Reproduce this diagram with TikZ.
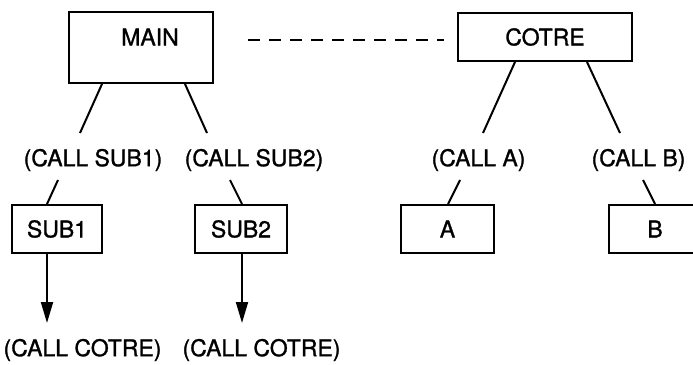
\documentclass[tikz,border=0pt]{standalone}
\usepackage{fontspec}
\setmainfont[FakeBold=1.2]{TeX Gyre Heros}
\usetikzlibrary{arrows.meta}
\begin{document}
\begin{tikzpicture}[x=1pt,y=-1pt,
  every node/.style={font=\fontsize{23}{27}\selectfont},
  box/.style={draw,line width=2pt,inner sep=0pt},
  lbl/.style={inner sep=0pt},
  conn/.style={line width=2pt},
  callarrow/.style={line width=2pt,-{Triangle[length=21pt,width=12pt]}}]
\useasboundingbox (0,0) rectangle (693,364);

% program units
\node[box,minimum width=144pt,minimum height=71pt] (main) at (141,47.5) {};
\node[lbl] (maintext) at (150,37) {MAIN};
\node[box,minimum width=174pt,minimum height=48pt] (cotre) at (545,37) {COTRE};
\node[box,minimum width=90pt,minimum height=48pt] (sub1) at (57,229) {SUB1};
\node[box,minimum width=92pt,minimum height=48pt] (sub2) at (241,229) {SUB2};
\node[box,minimum width=93pt,minimum height=48pt] (a) at (447.5,229) {A};
\node[box,minimum width=93pt,minimum height=48pt] (b) at (655,229) {B};

% call statements
\node[lbl] (call1) at (93,160) {(CALL SUB1)};
\node[lbl] (call2) at (254,160) {(CALL SUB2)};
\node[lbl] (calla) at (478.5,160) {(CALL A)};
\node[lbl] (callb) at (638.5,160) {(CALL B)};
\node[lbl] (cc1) at (82.5,350) {(CALL COTRE)};
\node[lbl] (cc2) at (261.5,350) {(CALL COTRE)};

% link between the two programs
\draw[line width=2pt,dash pattern=on 12pt off 9pt]
  ([shift={(34pt,7.5pt)}]main.east) -- ([shift={(-13pt,-3pt)}]cotre.west);

% tree connectors
\draw[conn] ([xshift=-39pt]main.south) -- ([shift={(-13pt,27pt)}]call1.center);
\draw[conn] ([xshift=44pt]main.south) -- ([shift={(-47pt,27pt)}]call2.center);
\draw[conn] ([xshift=-30pt]cotre.south) -- ([shift={(4.5pt,27pt)}]calla.center);
\draw[conn] ([xshift=42pt]cotre.south) -- ([shift={(-18.5pt,27pt)}]callb.center);
\draw[conn] ([shift={(-35pt,-20pt)}]call1.center) -- ([xshift=-10pt]sub1.north);
\draw[conn] ([shift={(-24pt,-20pt)}]call2.center) -- ([xshift=1pt]sub2.north);
\draw[conn] ([shift={(-18.5pt,-20pt)}]calla.center) -- ([xshift=0.5pt]a.north);
\draw[conn] ([shift={(4.5pt,-20pt)}]callb.center) -- (b.north);

% calls back to COTRE
\draw[callarrow] ([xshift=-10pt]sub1.south) -- ([shift={(-35.5pt,27pt)}]cc1.center);
\draw[callarrow] ([xshift=1pt]sub2.south) -- ([shift={(-19.5pt,27pt)}]cc2.center);
\end{tikzpicture}
\end{document}
